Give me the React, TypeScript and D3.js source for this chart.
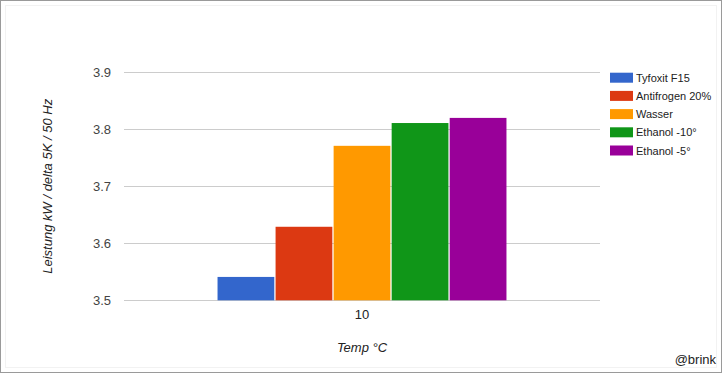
import React from "react";
import * as d3 from "d3";

const categories = ["10"];
const seriesNames = ["Tyfoxit F15", "Antifrogen 20%", "Wasser", "Ethanol -10°", "Ethanol -5°"];
const seriesValues = [[3.541], [3.629], [3.771], [3.811], [3.82]];
const seriesColors = ["#3366cc", "#dc3912", "#ff9900", "#109618", "#990099"];
const yTicks = [3.5, 3.6, 3.7, 3.8, 3.9];
const yTitle = "Leistung kW / delta 5K / 50 Hz";
const xTitle = "Temp °C";
const credit = "@brink";

const W = 722;
const H = 373;
const left = 124, right = 600, top = 72.3, bottom = 300.3;

export default function App() {
  const y = d3.scaleLinear().domain([3.5, 3.9]).range([bottom, top]);
  const x0 = d3.scaleBand<string>().domain(categories).range([left, right]).padding(0);
  const groupW = x0.bandwidth() * 0.607;
  const x1 = d3.scaleBand<string>().domain(seriesNames).range([0, groupW]).paddingInner(0.022);
  const font = "Arial, 'Liberation Sans', sans-serif";

  return (
    <svg width={W} height={H} style={{ position: "absolute", left: 0, top: 0 }} fontFamily={font}>
      <rect x={0} y={0} width={W} height={H} fill="#fff" />
      <rect x={0.5} y={0.5} width={W - 1} height={H - 1} fill="none" stroke="#9a9a9a" />
      <rect x={5.5} y={5.5} width={W - 11} height={H - 11} fill="none" stroke="#f2f2f2" />
      {yTicks.map((t) => (
        <g key={t}>
          <line x1={left} x2={right} y1={Math.round(y(t)) + 0.5} y2={Math.round(y(t)) + 0.5} stroke="#cccccc" />
          <text x={111} y={y(t) + 4.5} textAnchor="end" fontSize={13} fill="#444">
            {t.toFixed(1)}
          </text>
        </g>
      ))}
      {categories.map((c, ci) => {
        const gx = (x0(c) as number) + (x0.bandwidth() - groupW) / 2;
        return (
          <g key={c}>
            {seriesNames.map((s, si) => {
              const v = seriesValues[si][ci];
              return (
                <rect
                  key={s}
                  x={gx + (x1(s) as number)}
                  y={y(v)}
                  width={x1.bandwidth()}
                  height={y(3.5) - y(v)}
                  fill={seriesColors[si]}
                />
              );
            })}
            <text x={(x0(c) as number) + x0.bandwidth() / 2} y={319} textAnchor="middle" fontSize={13} fill="#222">
              {c}
            </text>
          </g>
        );
      })}
      <text x={(left + right) / 2} y={352} textAnchor="middle" fontSize={13} fontStyle="italic" fill="#222">
        {xTitle}
      </text>
      <text
        transform={`translate(51.5,${(top + bottom) / 2}) rotate(-90)`}
        textAnchor="middle"
        fontSize={13}
        fontStyle="italic"
        fill="#222"
      >
        {yTitle}
      </text>
      {seriesNames.map((s, i) => (
        <g key={s} transform={`translate(610,${72.7 + i * 18.2})`}>
          <rect x={0} y={0} width={23} height={10} fill={seriesColors[i]} />
          <text x={26} y={9} fontSize={11} fill="#222">
            {s}
          </text>
        </g>
      ))}
      <text x={716} y={364} textAnchor="end" fontSize={13} fill="#222">
        {credit}
      </text>
    </svg>
  );
}
